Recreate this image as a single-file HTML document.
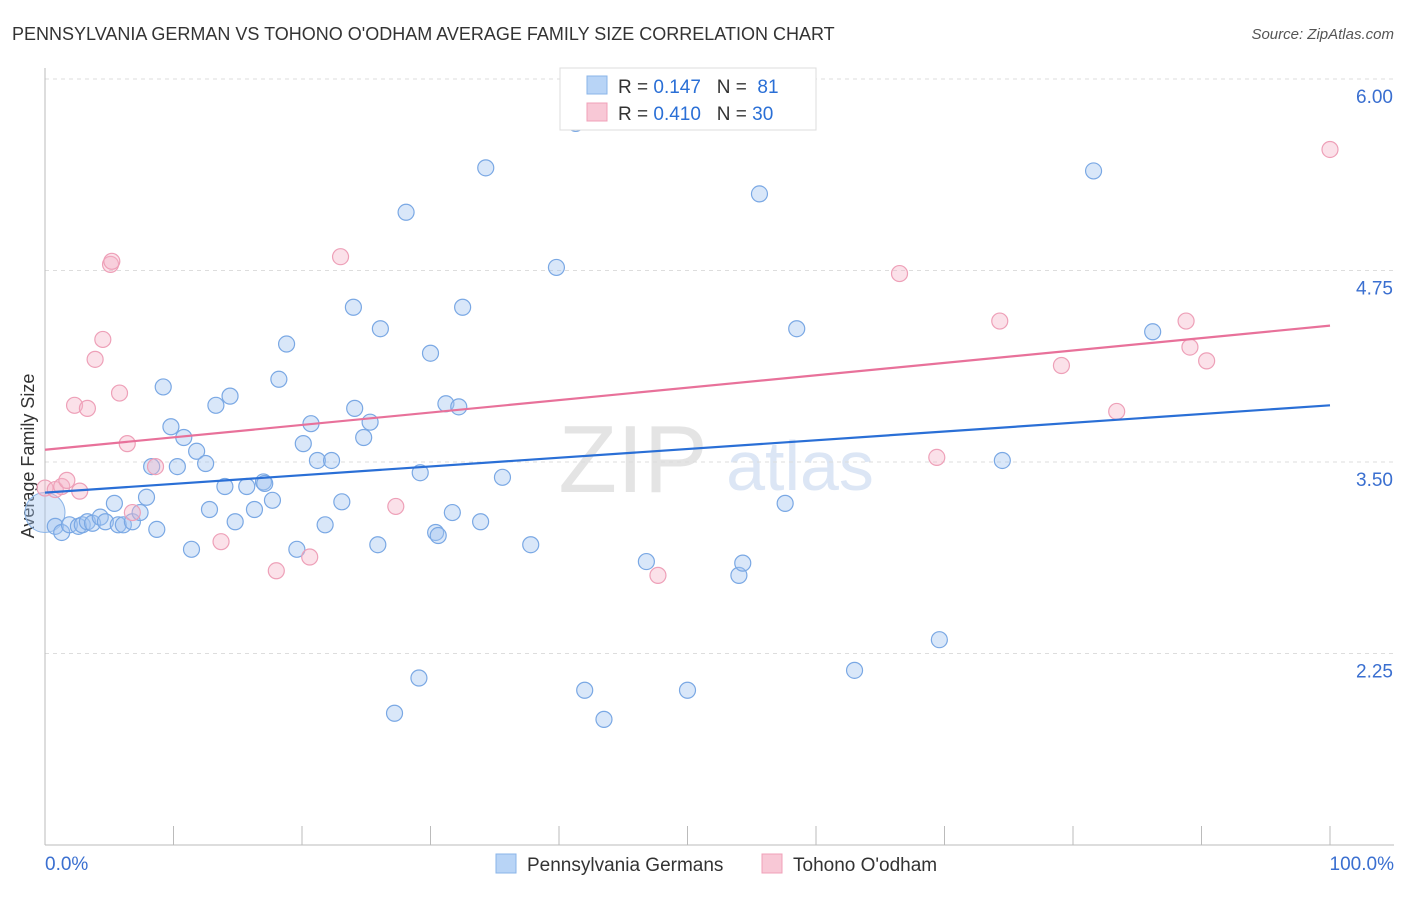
<!DOCTYPE html>
<html><head><meta charset="utf-8"><style>
body{margin:0;background:#fff;font-family:"Liberation Sans",sans-serif;}
svg text{font-family:"Liberation Sans",sans-serif;}
</style></head><body>
<svg id="chart" width="1406" height="892">
<text x="12" y="40" font-size="18" fill="#333">PENNSYLVANIA GERMAN VS TOHONO O'ODHAM AVERAGE FAMILY SIZE CORRELATION CHART</text>
<text x="1394" y="39" font-size="15" fill="#555" font-style="italic" text-anchor="end">Source: ZipAtlas.com</text>
<text x="633" y="492" font-size="96" fill="#e4e4e4" font-family="Liberation Serif" text-anchor="middle">ZIP</text>
<text x="800" y="490" font-size="70" fill="#dce6f5" text-anchor="middle">atlas</text>
<text transform="translate(34,456) rotate(-90)" font-size="18" fill="#333" text-anchor="middle">Average Family Size</text>
<g id="grid"></g><g id="axes"></g><g id="pts"></g><g id="lines"></g>
<g>
<rect x="560" y="68" width="256" height="62" fill="#fff" stroke="#ddd"/>
<rect x="587" y="76" width="20" height="18" fill="#b8d4f6" stroke="#8ab4e8"/>
<rect x="587" y="103" width="20" height="18" fill="#f8c8d6" stroke="#f0a0b8"/>
<text x="618" y="93" font-size="19" fill="#333">R = <tspan fill="#2a6fd6">0.147</tspan>&#160;&#160;&#160;N = &#160;<tspan fill="#2a6fd6">81</tspan></text>
<text x="618" y="120" font-size="19" fill="#333">R = <tspan fill="#2a6fd6">0.410</tspan>&#160;&#160;&#160;N = <tspan fill="#2a6fd6">30</tspan></text>
</g>
<g>
<rect x="496" y="854" width="20" height="19" fill="#b8d4f6" stroke="#8ab4e8"/>
<text x="527" y="871" font-size="19" fill="#333">Pennsylvania Germans</text>
<rect x="762" y="854" width="20" height="19" fill="#f8c8d6" stroke="#f0a0b8"/>
<text x="793" y="871" font-size="19" fill="#333">Tohono O'odham</text>
</g>
</svg>
<script>
const yTicks=[6.00,4.75,3.50,2.25];
const xTickLabels=["0.0%","100.0%"];
const blueX=[0.8,1.3,1.9,2.6,2.9,3.3,3.7,4.3,4.7,5.4,5.7,6.1,6.8,7.4,7.9,8.7,8.3,9.2,9.8,10.3,10.8,11.4,11.8,12.5,12.8,13.3,14.0,14.4,14.8,15.7,16.3,17.0,17.1,17.7,18.2,18.8,19.6,20.1,20.7,21.2,21.8,22.3,23.1,24.0,24.1,24.8,25.3,25.9,26.1,27.2,28.1,29.1,29.2,30.0,30.4,30.6,31.2,31.7,32.2,32.5,33.9,34.3,35.6,37.8,39.8,41.3,42.0,43.5,46.8,50.0,54.0,54.3,55.6,57.6,58.5,63.0,69.6,74.5,81.6,86.2];
const blueY=[3.08,3.04,3.09,3.08,3.09,3.11,3.10,3.14,3.11,3.23,3.09,3.09,3.11,3.17,3.27,3.06,3.47,3.99,3.73,3.47,3.66,2.93,3.57,3.49,3.19,3.87,3.34,3.93,3.11,3.34,3.19,3.37,3.36,3.25,4.04,4.27,2.93,3.62,3.75,3.51,3.09,3.51,3.24,4.51,3.85,3.66,3.76,2.96,4.37,1.86,5.13,2.09,3.43,4.21,3.04,3.02,3.88,3.17,3.86,4.51,3.11,5.42,3.40,2.96,4.77,5.71,2.01,1.82,2.85,2.01,2.76,2.84,5.25,3.23,4.37,2.14,2.34,3.51,5.40,4.35];
const pinkX=[0,0.8,1.3,1.7,2.3,2.7,3.3,3.9,4.5,5.1,5.2,5.8,6.4,6.8,8.6,13.7,18.0,20.6,23.0,27.3,47.7,66.5,69.4,74.3,79.1,83.4,88.8,89.1,90.4,100];
const pinkY=[3.33,3.32,3.34,3.38,3.87,3.31,3.85,4.17,4.30,4.79,4.81,3.95,3.62,3.17,3.47,2.98,2.79,2.88,4.84,3.21,2.76,4.73,3.53,4.42,4.13,3.83,4.42,4.25,4.16,5.54];
const blueLine=[3.30,3.87];
const pinkLine=[3.58,4.39];
const NS="http://www.w3.org/2000/svg";
const X=p=>45+p*12.85, Y=v=>845-(v-1)*153.2;
function mk(t,a,parent){const e=document.createElementNS(NS,t);for(const k in a)e.setAttribute(k,a[k]);document.getElementById(parent).appendChild(e);return e;}
yTicks.forEach(v=>{
 const l=mk('line',{x1:45,x2:1394,y1:Y(v),y2:Y(v),stroke:'#ddd','stroke-dasharray':'4,4'},'grid');
 
 
 const t=mk('text',{x:1393,y:Y(v)+24,'font-size':19,fill:'#3a6fd0','text-anchor':'end'},'grid');t.textContent=v.toFixed(2);
 
 
});
const ax=mk('line',{x1:45,x2:45,y1:68,y2:845,stroke:'#bbb'},'axes');


const bx=mk('line',{x1:45,x2:1394,y1:845,y2:845,stroke:'#bbb'},'axes');


for(let i=0;i<=10;i++){const t=mk('line',{x1:X(i*10),x2:X(i*10),y1:826,y2:845,stroke:'#bbb'},'axes');
 
 }
[[0,'start',45],[1,'end',1394]].forEach(([i,a,x])=>{const t=mk('text',{x:x,y:870,'font-size':19,fill:'#3a6fd0','text-anchor':a},'axes');t.textContent=xTickLabels[i];
 
 });
const big=mk('circle',{cx:X(0),cy:Y(3.17),r:20,fill:'rgba(160,196,240,0.4)',stroke:'#8ab4e8'},'pts');


blueX.forEach((x,i)=>{const c=mk('circle',{cx:X(x),cy:Y(blueY[i]),r:8,fill:'rgba(160,196,240,0.4)',stroke:'#7aa8e4','stroke-width':1.2},'pts');
 
 });
pinkX.forEach((x,i)=>{const c=mk('circle',{cx:X(x),cy:Y(pinkY[i]),r:8,fill:'rgba(245,180,200,0.4)',stroke:'#eea0b8','stroke-width':1.2},'pts');
 
 });
const bl=mk('line',{x1:X(0),x2:X(100),y1:Y(blueLine[0]),y2:Y(blueLine[1]),stroke:'#2a6fd6','stroke-width':2.2},'lines');


const pl=mk('line',{x1:X(0),x2:X(100),y1:Y(pinkLine[0]),y2:Y(pinkLine[1]),stroke:'#e8719a','stroke-width':2.2},'lines');


</script>
</body></html>
